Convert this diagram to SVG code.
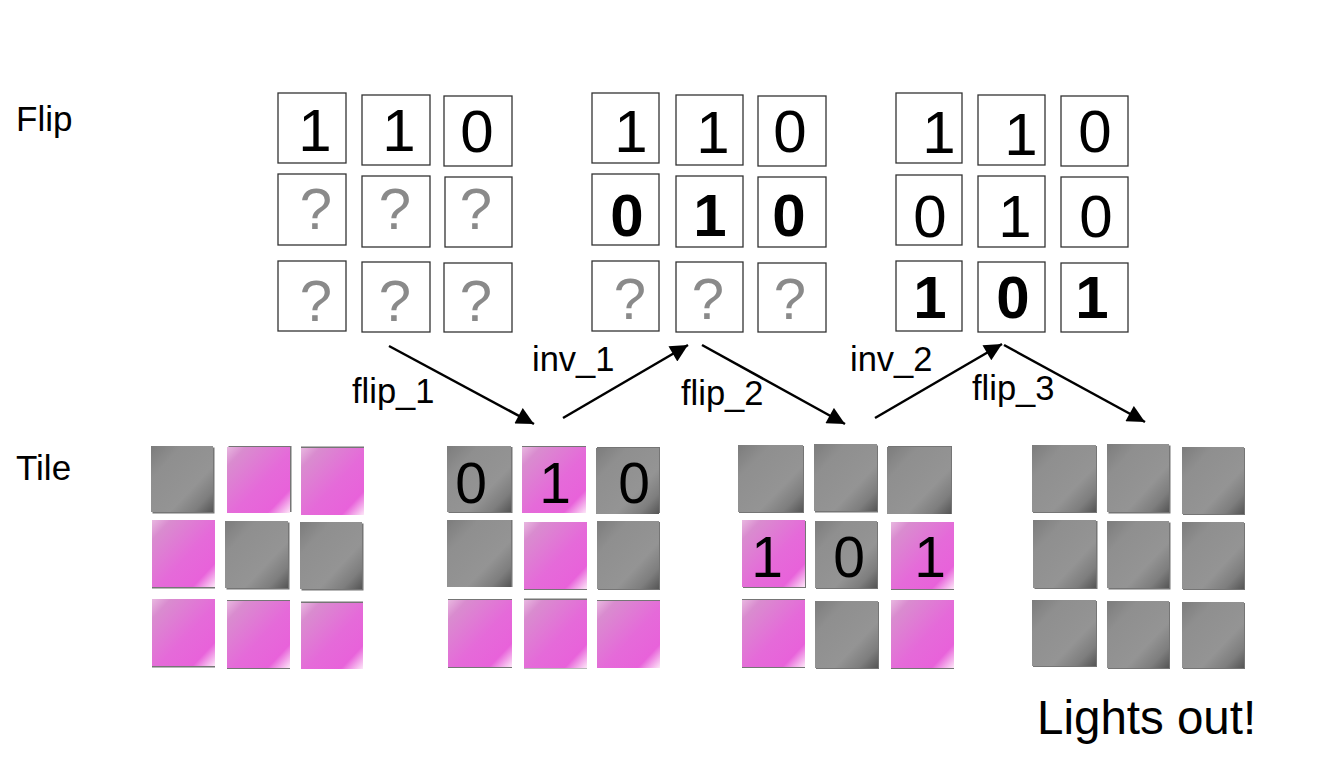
<svg xmlns="http://www.w3.org/2000/svg" width="1320" height="775" viewBox="0 0 1320 775">
<style>
text { font-family: "Liberation Sans", Arial, sans-serif; fill: #000; }
.lbl { font-size: 34.5px; }
.side { font-size: 35px; }
.big { font-size: 47.5px; }
.d { font-size: 60px; text-anchor: middle; }
.db { font-size: 60px; text-anchor: middle; font-weight: bold; }
.q { font-size: 58px; text-anchor: middle; fill: #8a8a8a; }
.td { font-size: 57px; text-anchor: middle; }
.box { fill: #fff; stroke: #333; stroke-width: 1.3; }
.gray { fill: url(#gGray); }
.pink { fill: url(#gPink); }
.sh { fill: #3a3a3a; opacity: 0.7; }
.conn { stroke: #000; stroke-width: 2.5; fill: none; marker-end: url(#ah); }
</style>
<defs>
<linearGradient id="gGray" x1="0" y1="0" x2="1" y2="1">
<stop offset="0" stop-color="#7c7c7c"/>
<stop offset="0.25" stop-color="#8f8f8f"/>
<stop offset="0.65" stop-color="#949494"/>
<stop offset="0.84" stop-color="#7e7e7e"/>
<stop offset="1" stop-color="#555"/>
</linearGradient>
<linearGradient id="gPink" x1="0" y1="0" x2="1" y2="1">
<stop offset="0" stop-color="#e8b8e0"/>
<stop offset="0.15" stop-color="#d98ccf"/>
<stop offset="0.55" stop-color="#e56ad9"/>
<stop offset="0.82" stop-color="#e862da"/>
<stop offset="1" stop-color="#fde8f8"/>
</linearGradient>
<marker id="ah" viewBox="0 0 10 10" refX="10" refY="5" markerWidth="8" markerHeight="7" markerUnits="strokeWidth" orient="auto">
<path d="M0,0 L10,5 L0,10 z" fill="#000"/>
</marker>
</defs>

<text class="side" x="16" y="131">Flip</text>
<text class="side" x="16" y="480">Tile</text>

<!-- Flip grid 1 -->
<g id="flip1">
<g id="f1-11"><rect class="box" x="278" y="93" width="68" height="70"/><text class="d" x="315" y="151">1</text></g>
<g id="f1-12"><rect class="box" x="362" y="95" width="68" height="70"/><text class="d" x="399" y="151">1</text></g>
<g id="f1-13"><rect class="box" x="444" y="96" width="68" height="70"/><text class="d" x="477" y="152">0</text></g>
<g id="f1-21"><rect class="box" x="278" y="174" width="68" height="71"/><text class="q" x="316" y="229">?</text></g>
<g id="f1-22"><rect class="box" x="362" y="176" width="68" height="71"/><text class="q" x="395" y="229">?</text></g>
<g id="f1-23"><rect class="box" x="445" y="177" width="67" height="70"/><text class="q" x="476" y="229">?</text></g>
<g id="f1-31"><rect class="box" x="278" y="261" width="68" height="70"/><text class="q" x="316" y="321">?</text></g>
<g id="f1-32"><rect class="box" x="362" y="262" width="68" height="70"/><text class="q" x="395" y="321">?</text></g>
<g id="f1-33"><rect class="box" x="444" y="263" width="68" height="69"/><text class="q" x="476" y="321">?</text></g>
</g>

<!-- Flip grid 2 -->
<g id="flip2">
<g id="f2-11"><rect class="box" x="592" y="93" width="67" height="70"/><text class="d" x="631" y="152">1</text></g>
<g id="f2-12"><rect class="box" x="676" y="95" width="67" height="70"/><text class="d" x="713" y="153">1</text></g>
<g id="f2-13"><rect class="box" x="758" y="96" width="68" height="70"/><text class="d" x="790" y="152">0</text></g>
<g id="f2-21"><rect class="box" x="592" y="174" width="67" height="71"/><text class="db" x="627" y="236">0</text></g>
<g id="f2-22"><rect class="box" x="676" y="176" width="67" height="71"/><text class="db" x="710" y="236">1</text></g>
<g id="f2-23"><rect class="box" x="758" y="177" width="68" height="70"/><text class="db" x="789" y="236">0</text></g>
<g id="f2-31"><rect class="box" x="592" y="261" width="67" height="70"/><text class="q" x="630" y="319">?</text></g>
<g id="f2-32"><rect class="box" x="676" y="262" width="67" height="70"/><text class="q" x="708" y="319">?</text></g>
<g id="f2-33"><rect class="box" x="758" y="263" width="68" height="69"/><text class="q" x="790" y="319">?</text></g>
</g>

<!-- Flip grid 3 -->
<g id="flip3">
<g id="f3-11"><rect class="box" x="896" y="93" width="66" height="70"/><text class="d" x="939" y="153">1</text></g>
<g id="f3-12"><rect class="box" x="978" y="95" width="67" height="70"/><text class="d" x="1021" y="155">1</text></g>
<g id="f3-13"><rect class="box" x="1061" y="96" width="67" height="70"/><text class="d" x="1095" y="152">0</text></g>
<g id="f3-21"><rect class="box" x="896" y="175" width="66" height="70"/><text class="d" x="930" y="237">0</text></g>
<g id="f3-22"><rect class="box" x="978" y="176" width="67" height="71"/><text class="d" x="1015" y="237">1</text></g>
<g id="f3-23"><rect class="box" x="1061" y="177" width="67" height="70"/><text class="d" x="1096" y="237">0</text></g>
<g id="f3-31"><rect class="box" x="896" y="261" width="66" height="70"/><text class="db" x="930" y="318">1</text></g>
<g id="f3-32"><rect class="box" x="978" y="262" width="67" height="70"/><text class="db" x="1013" y="318">0</text></g>
<g id="f3-33"><rect class="box" x="1061" y="263" width="67" height="69"/><text class="db" x="1092" y="318">1</text></g>
</g>

<!-- Tile grid A -->
<g id="tileA">
<g id="tA-11"><rect class="sh" x="152.5" y="447.5" width="62" height="66"/><rect class="gray" x="151" y="446" width="62" height="66"/></g>
<g id="tA-12"><rect class="sh" x="228.5" y="446" width="63" height="66"/><rect class="pink" x="227" y="447" width="63" height="66"/></g>
<g id="tA-13"><rect class="sh" x="301" y="446.5" width="63" height="67"/><rect class="pink" x="301" y="448" width="63" height="67"/></g>
<g id="tA-21"><rect class="sh" x="152" y="521.5" width="63" height="67"/><rect class="pink" x="152" y="520" width="63" height="67"/></g>
<g id="tA-22"><rect class="sh" x="226.5" y="522.5" width="63" height="67"/><rect class="gray" x="225" y="521" width="63" height="67"/></g>
<g id="tA-23"><rect class="sh" x="301.5" y="523.5" width="62" height="67"/><rect class="gray" x="300" y="522" width="62" height="67"/></g>
<g id="tA-31"><rect class="sh" x="152" y="600.5" width="63" height="67"/><rect class="pink" x="152" y="599" width="63" height="67"/></g>
<g id="tA-32"><rect class="sh" x="227" y="600" width="63" height="69"/><rect class="pink" x="227" y="601" width="63" height="67"/></g>
<g id="tA-33"><rect class="sh" x="301" y="601.5" width="62" height="67"/><rect class="pink" x="301" y="603" width="62" height="66"/></g>
</g>

<!-- Tile grid B -->
<g id="tileB">
<g id="tB-11"><rect class="sh" x="448.5" y="447" width="64" height="66"/><rect class="gray" x="447" y="446" width="64" height="66"/><text class="td" x="471" y="503">0</text></g>
<g id="tB-12"><rect class="sh" x="522" y="446" width="64" height="66"/><rect class="pink" x="522" y="447" width="64" height="66"/><text class="td" x="555" y="503">1</text></g>
<g id="tB-13"><rect class="sh" x="597" y="447" width="63" height="66"/><rect class="gray" x="596" y="448" width="63" height="66"/><text class="td" x="634" y="503">0</text></g>
<g id="tB-21"><rect class="sh" x="448.5" y="520" width="64" height="67"/><rect class="gray" x="447" y="520" width="64" height="67"/></g>
<g id="tB-22"><rect class="sh" x="524" y="523" width="63" height="67"/><rect class="pink" x="524" y="522" width="63" height="67"/></g>
<g id="tB-23"><rect class="sh" x="598" y="522" width="62" height="68"/><rect class="gray" x="597" y="521" width="62" height="68"/></g>
<g id="tB-31"><rect class="sh" x="448" y="599" width="64" height="69"/><rect class="pink" x="448" y="600" width="64" height="67"/></g>
<g id="tB-32"><rect class="sh" x="524" y="598.5" width="63" height="70"/><rect class="pink" x="524" y="600" width="63" height="68"/></g>
<g id="tB-33"><rect class="sh" x="597" y="600" width="63" height="68"/><rect class="pink" x="597" y="601" width="63" height="67"/></g>
</g>

<!-- Tile grid C -->
<g id="tileC">
<g id="tC-11"><rect class="sh" x="739" y="446" width="65" height="67"/><rect class="gray" x="738" y="445" width="65" height="67"/></g>
<g id="tC-12"><rect class="sh" x="815" y="445.5" width="63" height="67"/><rect class="gray" x="814" y="444" width="63" height="67"/></g>
<g id="tC-13"><rect class="sh" x="888" y="446" width="64" height="68"/><rect class="gray" x="887" y="447" width="64" height="67"/></g>
<g id="tC-21"><rect class="sh" x="743" y="521" width="63" height="67"/><rect class="pink" x="742" y="520" width="63" height="67"/><text class="td" x="767" y="577">1</text></g>
<g id="tC-22"><rect class="sh" x="816" y="522" width="62" height="67"/><rect class="gray" x="815" y="521" width="62" height="67"/><text class="td" x="849" y="577">0</text></g>
<g id="tC-23"><rect class="sh" x="891" y="523" width="63" height="67"/><rect class="pink" x="891" y="522" width="63" height="67"/><text class="td" x="930" y="577">1</text></g>
<g id="tC-31"><rect class="sh" x="742" y="599" width="63" height="69"/><rect class="pink" x="742" y="600" width="63" height="67"/></g>
<g id="tC-32"><rect class="sh" x="816" y="602" width="63" height="67"/><rect class="gray" x="815" y="601" width="63" height="67"/></g>
<g id="tC-33"><rect class="sh" x="891" y="601" width="63" height="68"/><rect class="pink" x="891" y="600" width="63" height="68"/></g>
</g>

<!-- Tile grid D -->
<g id="tileD">
<g id="tD-11"><rect class="sh" x="1033" y="446" width="64" height="67"/><rect class="gray" x="1032" y="445" width="64" height="67"/></g>
<g id="tD-12"><rect class="sh" x="1108.5" y="445.5" width="62" height="68"/><rect class="gray" x="1107" y="444" width="62" height="68"/></g>
<g id="tD-13"><rect class="sh" x="1183" y="448" width="62" height="67"/><rect class="gray" x="1182" y="447" width="62" height="67"/></g>
<g id="tD-21"><rect class="sh" x="1034.5" y="521" width="63" height="68"/><rect class="gray" x="1033" y="520" width="63" height="68"/></g>
<g id="tD-22"><rect class="sh" x="1108.5" y="522.5" width="62" height="67"/><rect class="gray" x="1107" y="521" width="62" height="67"/></g>
<g id="tD-23"><rect class="sh" x="1183" y="523" width="62" height="67"/><rect class="gray" x="1182" y="522" width="62" height="67"/></g>
<g id="tD-31"><rect class="sh" x="1033" y="601" width="64" height="66"/><rect class="gray" x="1032" y="600" width="64" height="66"/></g>
<g id="tD-32"><rect class="sh" x="1108" y="602" width="62" height="67"/><rect class="gray" x="1107" y="601" width="62" height="67"/></g>
<g id="tD-33"><rect class="sh" x="1183" y="603" width="62" height="66"/><rect class="gray" x="1182" y="602" width="62" height="66"/></g>
</g>

<!-- Connectors -->
<g id="connectors">
<line class="conn" x1="389" y1="346" x2="534" y2="424"/>
<line class="conn" x1="563" y1="418" x2="688" y2="345"/>
<line class="conn" x1="702" y1="345" x2="845" y2="424"/>
<line class="conn" x1="875" y1="418" x2="1002" y2="344"/>
<line class="conn" x1="1004" y1="345" x2="1145" y2="422"/>
</g>

<g id="edge-labels">
<text class="lbl" x="352" y="403">flip_1</text>
<text class="lbl" x="532" y="371">inv_1</text>
<text class="lbl" x="681" y="405">flip_2</text>
<text class="lbl" x="850" y="371">inv_2</text>
<text class="lbl" x="972" y="400">flip_3</text>
</g>

<text class="big" x="1037" y="734">Lights out!</text>
</svg>
